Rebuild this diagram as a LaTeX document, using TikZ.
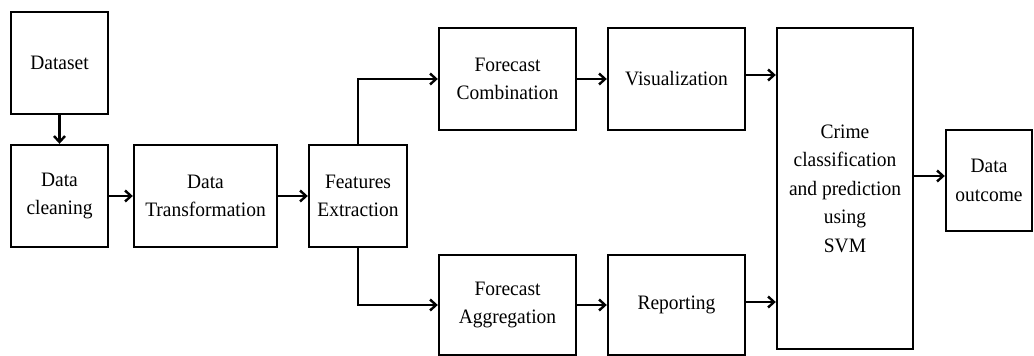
\documentclass[tikz,border=0pt]{standalone}
\usepackage{fontspec}
\setmainfont{Liberation Serif}[FakeStretch=0.95]
\usetikzlibrary{arrows.meta}

\begin{document}
\begin{tikzpicture}[x=1pt,y=-1pt]
        \tikzstyle{every node}=[font=\fontsize{20.5}{28.5}\selectfont, align=center, inner sep=1pt]
        \tikzstyle{block}=[draw, line width=2.4pt, minimum width=97pt, minimum height=102pt]
        \tikzstyle{arr}=[line width=2.4pt, -{Straight Barb[length=6pt,width=11pt,line width=2.4pt]}]
        \useasboundingbox (0,0) rectangle (1034,356);
        \node[block] (dataset) at (59.5,63) {Dataset};
        \node[block] (clean) at (59.5,196) {Data\\cleaning};
        \node[block, minimum width=143pt] (transf) at (205.5,196) {Data\\Transformation};
        \node[block, minimum width=98pt] (feat) at (358,196) {Features\\Extraction};
        \node[block, minimum width=137pt] (fcomb) at (507.5,79) {Forecast\\Combination};
        \node[block, minimum width=137pt] (visu) at (676.5,79) {Visualization};
        \node[block, minimum width=137pt, minimum height=100pt] (fagg) at (507.5,305) {Forecast\\Aggregation};
        \node[block, minimum width=137pt, minimum height=100pt] (report) at (676.5,305) {Reporting};
        \node[block, minimum width=136pt, minimum height=321pt] (svm) at (845,188.5) {Crime\\classification\\and prediction\\using\\SVM};
        \node[block, minimum width=86pt, minimum height=101pt] (outc) at (989,180.5) {Data\\outcome};
        \draw[arr] (dataset) -- (clean);
        \draw[arr] (clean) -- (transf);
        \draw[arr] (transf) -- (feat);
        \draw[arr] (feat.north) |- (fcomb.west);
        \draw[arr] (feat.south) |- (fagg.west);
        \draw[arr] (fcomb) -- (visu);
        \draw[arr] (fagg) -- (report);
        \draw[arr] ([yshift=4pt]visu.east) -- ([yshift=4pt]visu.east -| svm.west);
        \draw[arr] ([yshift=3pt]report.east) -- ([yshift=3pt]report.east -| svm.west);
        \draw[arr] ([yshift=4.5pt]outc.west -| svm.east) -- ([yshift=4.5pt]outc.west);
    \end{tikzpicture}
\end{document}
